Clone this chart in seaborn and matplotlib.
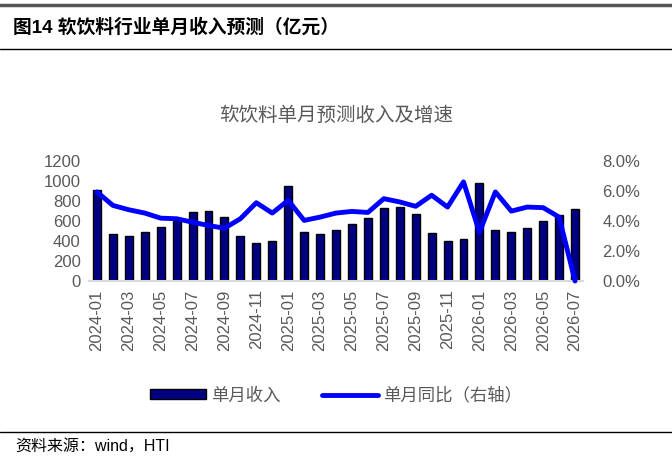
import numpy as np
import pandas as pd
import matplotlib
matplotlib.use('Agg')
import matplotlib.pyplot as plt
from matplotlib.lines import Line2D
from matplotlib.patches import Patch
from matplotlib.ticker import FuncFormatter, FixedLocator
import seaborn as sns

# 数据
months = ['2024-01', '2024-02', '2024-03', '2024-04', '2024-05', '2024-06', '2024-07', '2024-08',
          '2024-09', '2024-10', '2024-11', '2024-12', '2025-01', '2025-02', '2025-03', '2025-04',
          '2025-05', '2025-06', '2025-07', '2025-08', '2025-09', '2025-10', '2025-11', '2025-12',
          '2026-01', '2026-02', '2026-03', '2026-04', '2026-05', '2026-06', '2026-07']
revenue = [907, 470, 447, 487, 545, 605, 689, 699, 642, 454, 380, 397, 951, 487, 467, 508,
           568, 635, 729, 739, 672, 477, 400, 420, 981, 514, 487, 534, 598, 662, 723]
yoy = [5.94, 5.04, 4.75, 4.53, 4.19, 4.15, 3.92, 3.70, 3.52, 4.15, 5.22, 4.53, 5.38, 4.04,
       4.26, 4.53, 4.64, 4.57, 5.49, 5.27, 4.98, 5.72, 4.93, 6.61, 3.25, 5.94, 4.66, 4.93,
       4.89, 4.26, 0.0]

df = pd.DataFrame({'month': months, 'revenue': revenue, 'yoy': yoy})
df['pos'] = np.arange(len(df))

sns.set_theme(style='white')
plt.rcParams['font.family'] = ['Liberation Sans', 'Noto Sans CJK SC', 'DejaVu Sans']
gray = '#595959'

fig = plt.figure(figsize=(6.72, 4.59), dpi=100)
ax = fig.add_axes([0.1324, 0.3878, 0.7352, 0.2614])

sns.barplot(data=df, x='pos', y='revenue', ax=ax, color='#000080', edgecolor='black',
            linewidth=1, width=0.5, saturation=1, native_scale=True)
ax.set_xlim(-0.5, len(df) - 0.5)
ax.set_ylim(0, 1200)
ax.set_yticks(range(0, 1201, 200))
ax.set_xticks(df['pos'][::2])
ax.set_xticklabels(df['month'][::2], rotation=90)
ax.xaxis.set_minor_locator(FixedLocator(np.arange(-0.5, len(df), 2)))
ax.tick_params(axis='x', which='major', length=0, pad=6, labelsize=12, labelcolor=gray)
ax.tick_params(axis='x', which='minor', length=5, color='#D9D9D9', width=1, direction='out')
ax.tick_params(axis='y', length=0, labelsize=12, labelcolor=gray, pad=6)
ax.set_xlabel('')
ax.set_ylabel('')
for s in ['top', 'right', 'left']:
    ax.spines[s].set_visible(False)
ax.spines['bottom'].set_color('#D9D9D9')
ax.spines['bottom'].set_linewidth(1.5)

ax2 = ax.twinx()
sns.lineplot(data=df, x='pos', y='yoy', ax=ax2, color='#0000FF', linewidth=3.5)
for l in ax2.lines:
    l.set_clip_on(False)
    l.set_solid_joinstyle('round')
    l.set_solid_capstyle('round')
ax2.set_ylim(0, 8)
ax2.set_yticks(range(0, 9, 2))
ax2.yaxis.set_major_formatter(FuncFormatter(lambda v, p: f'{v:.1f}%'))
ax2.tick_params(axis='y', length=0, labelsize=12, labelcolor=gray, pad=14)
ax2.set_ylabel('')
ax2.set_xlabel('')
for s in ax2.spines.values():
    s.set_visible(False)
ax2.set_xlim(-0.5, len(df) - 0.5)

# 标题
fig.text(0.5, 0.748, '软饮料单月预测收入及增速', ha='center', va='center',
         fontsize=14, color=gray, family=['Noto Sans CJK SC'])
fig.text(0.02, 0.94, '图14 软饮料行业单月收入预测（亿元）', ha='left', va='center',
         fontsize=13.5, fontweight='bold', color='black')
fig.text(0.022, 0.027, '资料来源：wind，HTI', ha='left', va='center', fontsize=11.5, color='black')

fig.add_artist(Line2D([0, 1], [0.99, 0.99], color='#555555', linewidth=2.5))
fig.add_artist(Line2D([0, 1], [0.893, 0.893], color='black', linewidth=1))
fig.add_artist(Line2D([0, 1], [0.059, 0.059], color='black', linewidth=1))

handles = [Patch(facecolor='#000080', edgecolor='black', linewidth=1),
           Line2D([0], [0], color='#0000FF', linewidth=3.5)]
leg = fig.legend(handles, ['单月收入', '单月同比（右轴）'], loc='center', ncol=2,
                 bbox_to_anchor=(0.5, 0.139), frameon=False, fontsize=12.5,
                 handlelength=3.2, handleheight=0.5, columnspacing=2.4, handletextpad=0.3)
for t in leg.get_texts():
    t.set_color(gray)

fig.savefig('out.png', dpi=100)
